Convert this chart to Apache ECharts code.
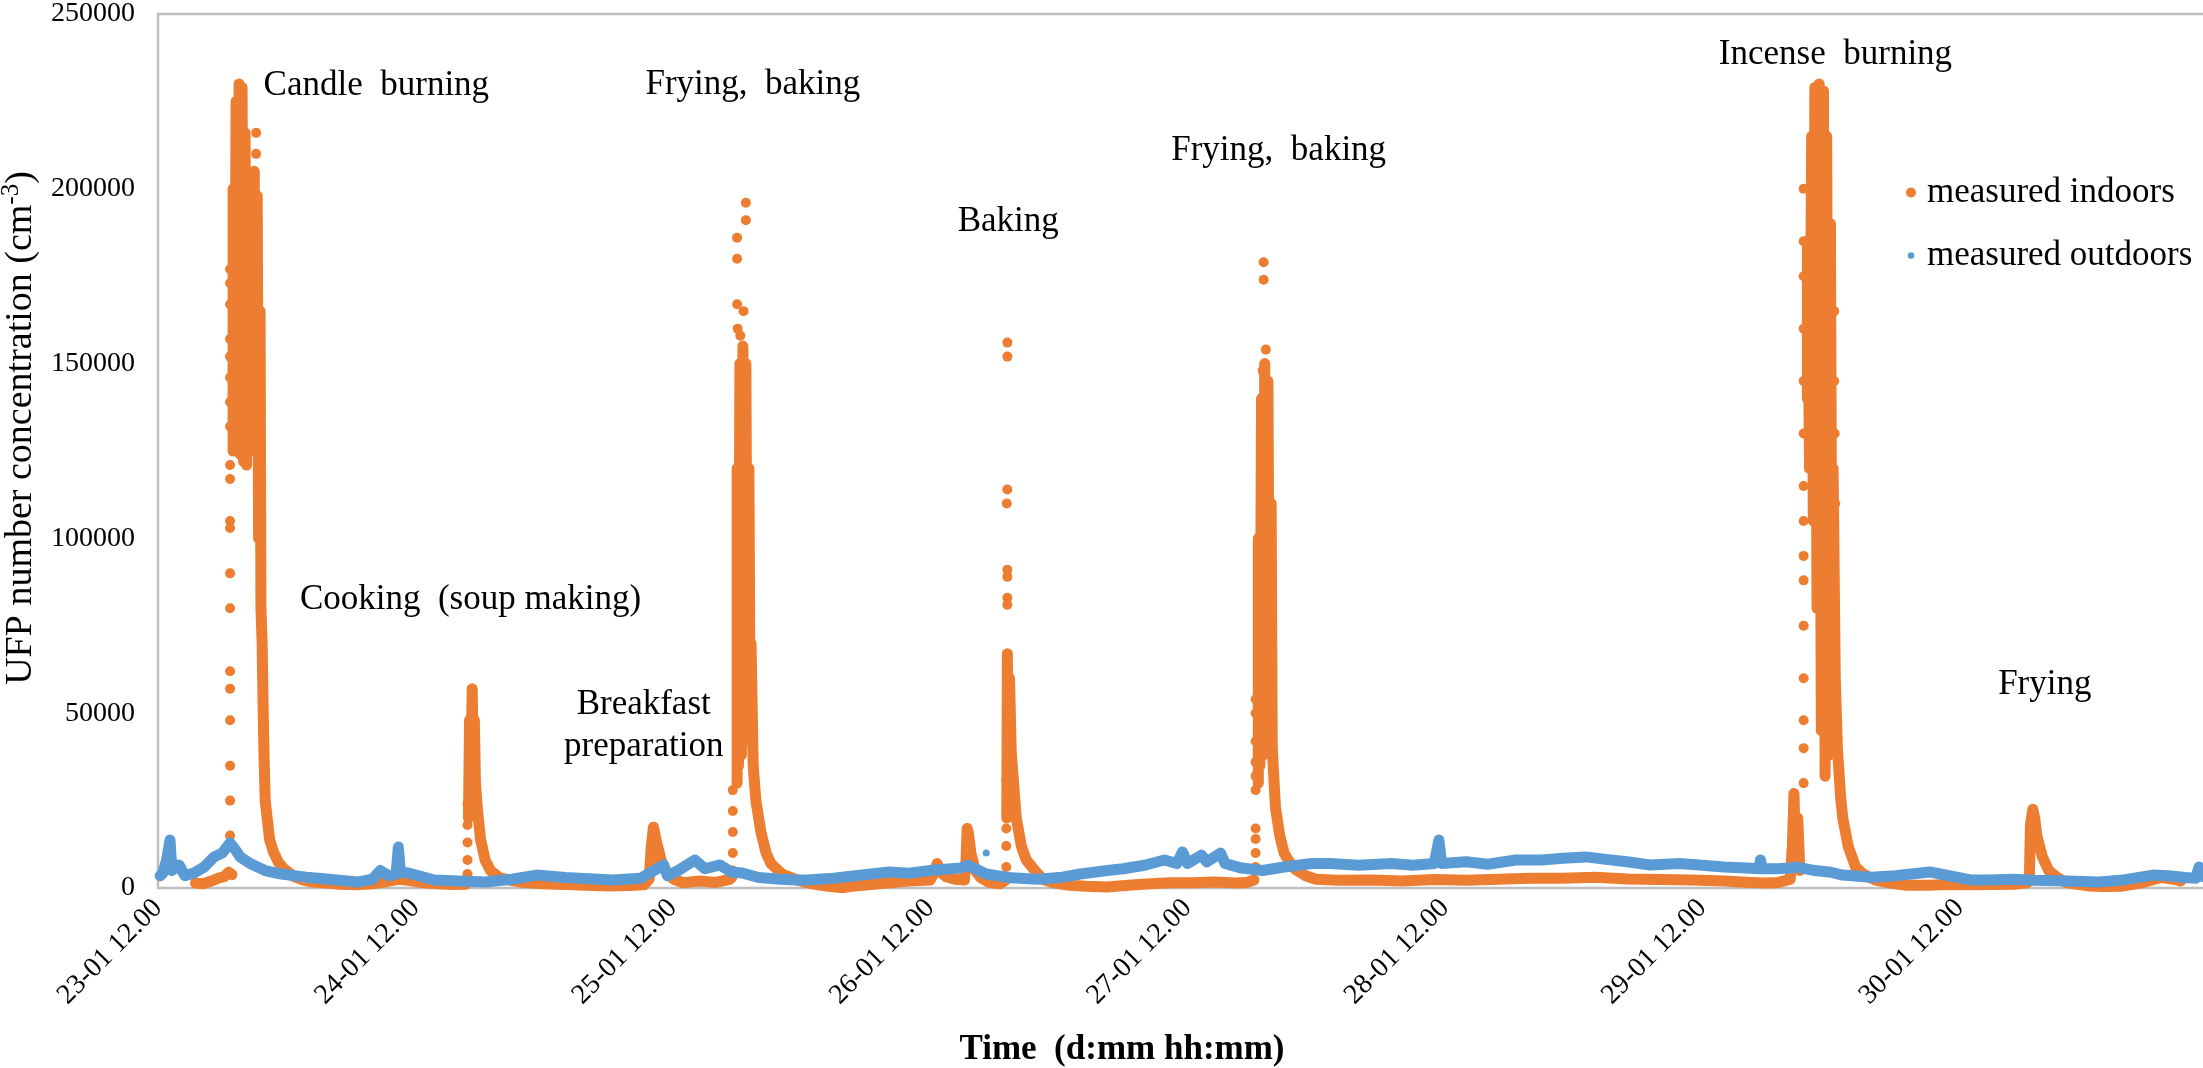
<!DOCTYPE html>
<html lang="en" style="height: 100%">
<head>
  <meta charset="utf-8">
</head>
<body style="height: 100%; margin: 0; background: #fff">
<div id="container" style="width: 2203px; height: 1068px"></div>
<script type="text/javascript" src="https://cdn.jsdelivr.net/npm/echarts@6/dist/echarts.min.js"></script>
<script type="text/javascript">
  // x values are hours after 23-01 12:00, y values are UFP counts per cm3
  var tickLabels = ['23-01 12.00', '24-01 12.00', '25-01 12.00', '26-01 12.00',
    '27-01 12.00', '28-01 12.00', '29-01 12.00', '30-01 12.00'];

  // indoor trace, read along the dense band (null = gap in the band)
  var indoorTrace = [
    [3.5, 1400], [4.2, 1200], [5.0, 2000], [5.6, 2800], [6.2, 3300], [6.6, 4500], [6.9, 3800], [6.95, null],
    // candle burning
    [7.0, 125000], [7.0, 200000], [7.15, 135000], [7.28, 225000], [7.42, 128000], [7.56, 230000],
    [7.7, 124000], [7.84, 229000], [7.98, 122000], [8.12, 216000], [8.26, 121000], [8.4, 192000],
    [8.55, 125000], [8.69, 178000], [8.83, 135000], [8.97, 205000], [9.1, 140000], [9.25, 198000],
    [9.38, 100000], [9.52, 165000], [9.6, 80000], [9.71, 70000], [9.8, 52000], [9.9, 36000],
    [10.0, 25000], [10.4, 14000], [10.74, 10500], [11.2, 7500], [11.67, 5700], [12.6, 3400],
    [13.5, 2300], [14.2, 1800], [15.5, 1500], [17, 1100], [18.5, 900], [20, 1200], [21.3, 1800],
    [22.4, 2500], [23.3, 2200], [24.5, 1600], [26, 1200], [27.5, 1000], [28.7, 1100], [28.8, null],
    // soup making
    [28.95, 20000], [29.05, 48000], [29.15, 30000], [29.3, 57000], [29.4, 35000], [29.5, 48000],
    [29.6, 30000], [29.8, 22000], [30.07, 14000], [30.5, 8000], [31.0, 5000], [31.8, 3000],
    [32.9, 2200], [34, 1600], [36, 1200], [38, 1000], [40, 800], [42, 600], [44, 700], [45.3, 900],
    // breakfast
    [45.8, 2500], [46.0, 12000], [46.2, 17400], [46.5, 13000], [47.0, 7000], [47.5, 4000],
    [48.1, 2500], [49, 1500], [50.5, 2000], [52, 1600], [53.3, 2500], [53.5, 3000], [53.55, null],
    // frying, baking 1
    [54.0, 30000], [54.0, 120000], [54.13, 35000], [54.26, 150000], [54.4, 38000], [54.54, 155000],
    [54.68, 42000], [54.82, 150000], [54.96, 45000], [55.1, 120000], [55.2, 60000], [55.3, 70000],
    [55.5, 35000], [55.75, 25000], [56.22, 16000], [56.7, 10000], [57.15, 7000], [58.2, 4000],
    [59.5, 2400], [61, 1200], [62.5, 500], [63.9, 100], [65, 600], [66.5, 1000], [68.2, 1500],
    [70, 2000], [72.0, 2300], [72.4, 4500], [72.65, 7000], [73.0, 4500], [73.5, 3200], [74.3, 2500],
    [75.2, 2300], [75.35, 8000], [75.45, 17000], [75.55, 16000], [75.8, 10000], [76.2, 5000],
    [76.7, 3000], [77.5, 1600], [78.5, 1200], [79.0, 2200], [79.05, null],
    // baking
    [79.15, 20000], [79.2, 67000], [79.3, 25000], [79.4, 60000], [79.56, 39000], [80.03, 20000],
    [80.5, 12000], [80.97, 8000], [81.9, 4500], [82.5, 2500], [83.5, 1500], [85, 800], [86.5, 500],
    [88.5, 300], [90.5, 800], [92.5, 1200], [94.5, 1500], [96.5, 1500], [98.5, 1700], [100.5, 1400],
    [101.5, 1600], [102.2, 2300], [102.3, null],
    // frying, baking 2
    [102.6, 30000], [102.6, 100000], [102.75, 35000], [102.9, 140000], [103.05, 38000],
    [103.2, 150000], [103.35, 42000], [103.5, 145000], [103.65, 45000], [103.8, 110000],
    [103.9, 40000], [104.2, 23000], [104.6, 15000], [105.0, 10000], [105.5, 7500], [106.0, 5500],
    [107.0, 3500], [108, 2500], [110, 2200], [113, 2300], [116, 2000], [119, 2400], [122, 2200],
    [125, 2500], [128, 2800], [131, 2800], [134, 3100], [137, 2600], [140, 2400], [143, 2300],
    [146, 2000], [148.5, 1600], [150, 1400], [151.1, 1600], [152.2, 2500], [152.4, 12000],
    [152.55, 27000], [152.7, 8000], [152.9, 20000], [153.1, 5000], [153.2, null],
    // incense burning
    [153.8, 140000], [153.8, 185000], [154.0, 120000], [154.2, 215000], [154.35, 105000],
    [154.5, 229000], [154.7, 80000], [154.9, 230000], [155.1, 45000], [155.3, 228000],
    [155.45, 32000], [155.6, 215000], [155.8, 38000], [155.95, 190000], [156.1, 60000],
    [156.2, 120000], [156.4, 60000], [156.6, 40000], [156.9, 26000], [157.1, 20000], [157.6, 12000],
    [158.3, 6000], [159.0, 4000], [160.1, 2300], [161.5, 1400], [163, 800], [165, 800], [167, 1000],
    [169, 900], [171, 1000], [173, 1100], [174.3, 1500],
    // frying
    [174.5, 3000], [174.6, 18000], [174.82, 22500], [175.0, 20000], [175.2, 15000], [175.7, 9000],
    [176.3, 5000], [177.1, 3000], [178, 1500], [180, 600], [181.4, 400], [183, 500], [185, 1500],
    [186.8, 3000], [188, 2500], [188.6, 2000]
  ];

  // single indoor points on the fast rising edges and above the bands
  var indoorDots = [
    [6.72, 15000], [6.72, 25000], [6.72, 35000], [6.72, 48000], [6.72, 57000], [6.72, 62000],
    [6.72, 80000], [6.72, 90000], [6.72, 103000], [6.72, 105000], [6.72, 117000], [6.72, 121000],
    [6.72, 132000], [6.72, 139000], [6.72, 146000], [6.72, 152000], [6.72, 157000], [6.72, 167000],
    [6.72, 173000], [6.72, 177000], [9.15, 216000], [9.15, 210000],
    [28.86, 4000], [28.86, 8000], [28.86, 13000], [28.86, 18000], [28.86, 24000],
    [53.6, 5000], [53.6, 10000], [53.6, 16000], [53.6, 22000], [53.6, 28000],
    [54.0, 186000], [54.0, 180000], [54.0, 167000], [54.05, 160000], [54.82, 196000],
    [54.82, 191000], [54.6, 165000], [54.3, 158000],
    [79.2, 156000], [79.2, 152000], [79.2, 114000], [79.15, 110000], [79.2, 91000], [79.2, 89000],
    [79.2, 83000], [79.2, 81000], [79.1, 31000], [79.1, 17000], [79.1, 12000], [79.1, 6000],
    [102.35, 6000], [102.35, 10000], [102.35, 14000], [102.35, 17000], [102.35, 28000],
    [102.35, 32000], [102.35, 36000], [102.35, 42000], [102.35, 50000], [102.35, 54000],
    [103.1, 179000], [103.1, 174000], [103.3, 154000], [103.0, 148000],
    [153.45, 30000], [153.45, 40000], [153.45, 48000], [153.45, 60000], [153.45, 75000],
    [153.45, 88000], [153.45, 95000], [153.45, 105000], [153.45, 115000], [153.45, 130000],
    [153.45, 145000], [153.45, 160000], [153.45, 175000], [153.45, 185000], [153.45, 200000],
    [156.3, 165000], [156.3, 145000], [156.35, 130000], [156.4, 110000]
  ];

  var outdoorTrace = [
    [0.2, 3500], [0.47, 4300], [0.8, 8000], [1.12, 13700], [1.3, 5000], [1.96, 6600], [2.5, 3500],
    [3.36, 4300], [4.3, 6000], [5.23, 8900], [6.0, 10000], [6.72, 12900], [7.2, 11000], [7.66, 8900],
    [8.59, 7000], [9.99, 5000], [11.5, 4000], [13.82, 3100], [16, 2500], [18.58, 1700], [20.0, 2500],
    [20.73, 5000], [21.5, 3500], [22.2, 4000], [22.41, 11700], [22.6, 4500], [23.35, 4300],
    [25.77, 2300], [28, 2000], [30.54, 1700], [33, 2500], [35.3, 3700], [38, 3000], [42.4, 2300],
    [45, 2800], [47.16, 6600], [47.5, 3500], [48.5, 5000], [50.05, 8000], [51, 5500], [52.39, 6600],
    [53.5, 4500], [54.5, 4300], [56, 3000], [58, 2500], [59.58, 2300], [60.51, 2300], [63, 2800],
    [65, 3500], [68.17, 4600], [70, 4200], [72, 5000], [74.8, 5700], [75.5, 6500], [77.23, 4000],
    [79.56, 2900], [82, 2500], [84.33, 3100], [86, 4000], [88.53, 5000], [90, 5500], [92, 6500],
    [93.85, 8000], [95.0, 7000], [95.53, 10300], [96, 7000], [97.3, 9400], [97.8, 7500], [99.08, 10000],
    [99.5, 7000], [101.04, 5700], [103, 5000], [105, 6000], [107.58, 7000], [109.26, 7000],
    [112, 6500], [115, 7000], [117, 6500], [119.0, 7000], [119.44, 13700], [119.7, 7000],
    [122, 7500], [124, 6800], [126.63, 8000], [129, 8000], [131, 8500], [133.17, 8900], [135, 8200],
    [137, 7500], [139.14, 6600], [141.85, 7000], [144, 6500], [146, 6000], [148.11, 5700],
    [149.3, 5500], [149.42, 8000], [149.6, 5500], [151, 5500], [152.22, 5700], [152.87, 6000],
    [154.5, 5000], [156, 4500], [157.07, 3700], [159.78, 3100], [162, 3500], [165.2, 4600],
    [167, 3500], [169.03, 2300], [170.61, 2300], [173, 2500], [175, 2200], [178, 2000],
    [180.98, 1700], [183, 2200], [186.02, 3700], [187.5, 3500], [189, 3000], [190.0, 2800],
    [190.32, 6000], [190.5, 3500], [190.97, 3000]
  ];

  var outdoorDots = [[77.23, 10000]];

  // event notes: text and the point (hours, count) the text is centred on
  var noteTexts = ['Candle  burning', 'Cooking  (soup making)', 'Breakfast\npreparation',
    'Frying,  baking', 'Baking', 'Frying,  baking', 'Incense  burning', 'Frying'];
  var noteHours = [20.36, 29.14, 45.29, 55.47, 79.28, 104.5, 156.42, 175.94];
  var noteValues = [229400, 82400, 46300, 229700, 190500, 211000, 238300, 58000];

  var ORANGE = '#ED7D31';
  var BLUE = '#5B9BD5';
  var FONT = 'Liberation Serif';
  // small dot inside a 10x10 box, so the outdoor legend mark is smaller
  var SMALL_DOT = 'path://M0,0M10,10M1.7,5A3.3,3.3 0 1 1 8.3,5A3.3,3.3 0 1 1 1.7,5Z';

  var myChart = echarts.init(document.getElementById('container'), null, {renderer: 'canvas'});

  var option = {
    animation: false,
    backgroundColor: '#fff',
    textStyle: {fontFamily: FONT, color: '#000'},
    grid: {
      left: 158, right: -3, top: 14, bottom: 180,
      containLabel: false,
      outerBoundsMode: 'none',
      show: true, borderColor: '#bfbfbf', borderWidth: 2.5
    },
    legend: {
      orient: 'vertical',
      left: 1901, top: 170,
      itemGap: 28, itemWidth: 10, itemHeight: 10,
      textStyle: {fontFamily: FONT, fontSize: 35, color: '#000', padding: [0, 0, 0, 6]},
      data: [{name: 'measured indoors', icon: 'circle'}, {name: 'measured outdoors', icon: SMALL_DOT}]
    },
    xAxis: {
      type: 'value',
      min: 0, max: 190.97, interval: 24,
      splitLine: {show: false},
      axisLine: {show: false},
      axisTick: {show: false},
      axisLabel: {
        rotate: 45, fontSize: 28, fontFamily: FONT, color: '#000', margin: 16,
        formatter: function (v) {
          var i = v / 24;
          return Number.isInteger(i) && tickLabels[i] ? tickLabels[i] : '';
        }
      },
      name: 'Time  (d:mm hh:mm)',
      nameLocation: 'middle',
      nameGap: 144,
      nameTextStyle: {fontFamily: FONT, fontSize: 35, fontWeight: 'bold', color: '#000', padding: [0, 120, 0, 0]}
    },
    yAxis: {
      type: 'value',
      min: 0, max: 250000, interval: 50000,
      splitLine: {show: false},
      axisLine: {show: false},
      axisTick: {show: false},
      axisLabel: {
        fontSize: 28, fontFamily: FONT, color: '#000', margin: 23,
        formatter: function (v) { return String(v); }
      },
      name: '{a|UFP number concentration (cm}{s|-3}{a|)}',
      nameLocation: 'middle',
      nameGap: 113,
      nameTextStyle: {
        padding: [0, 0, 0, 46],
        rich: {
          a: {fontFamily: FONT, fontSize: 38, color: '#000', lineHeight: 44},
          s: {fontFamily: FONT, fontSize: 25, color: '#000', verticalAlign: 'top', lineHeight: 26}
        }
      }
    },
    series: [
      {
        name: 'measured indoors',
        type: 'line',
        data: indoorTrace,
        showSymbol: false,
        connectNulls: false,
        itemStyle: {color: ORANGE},
        lineStyle: {color: ORANGE, width: 11, cap: 'round', join: 'round'},
        z: 2
      },
      {
        name: 'measured indoors',
        type: 'scatter',
        data: indoorDots,
        symbolSize: 10,
        itemStyle: {color: ORANGE, opacity: 1},
        z: 2,
        markPoint: {
          symbol: 'circle',
          symbolSize: 1,
          itemStyle: {color: 'rgba(0,0,0,0)'},
          label: {
            show: true, position: 'inside', formatter: '{b}',
            fontFamily: FONT, fontSize: 35, color: '#000', lineHeight: 42
          },
          data: noteTexts.map(function (t, i) {
            return {name: t, coord: [noteHours[i], noteValues[i]]};
          })
        }
      },
      {
        name: 'measured outdoors',
        type: 'line',
        data: outdoorTrace,
        showSymbol: false,
        itemStyle: {color: BLUE},
        lineStyle: {color: BLUE, width: 11, cap: 'round', join: 'round'},
        z: 3
      },
      {
        name: 'measured outdoors',
        type: 'scatter',
        data: outdoorDots,
        symbolSize: 7,
        itemStyle: {color: BLUE, opacity: 1},
        z: 3
      }
    ]
  };

  myChart.setOption(option);
  window.addEventListener('resize', myChart.resize);
</script>
</body>
</html>
